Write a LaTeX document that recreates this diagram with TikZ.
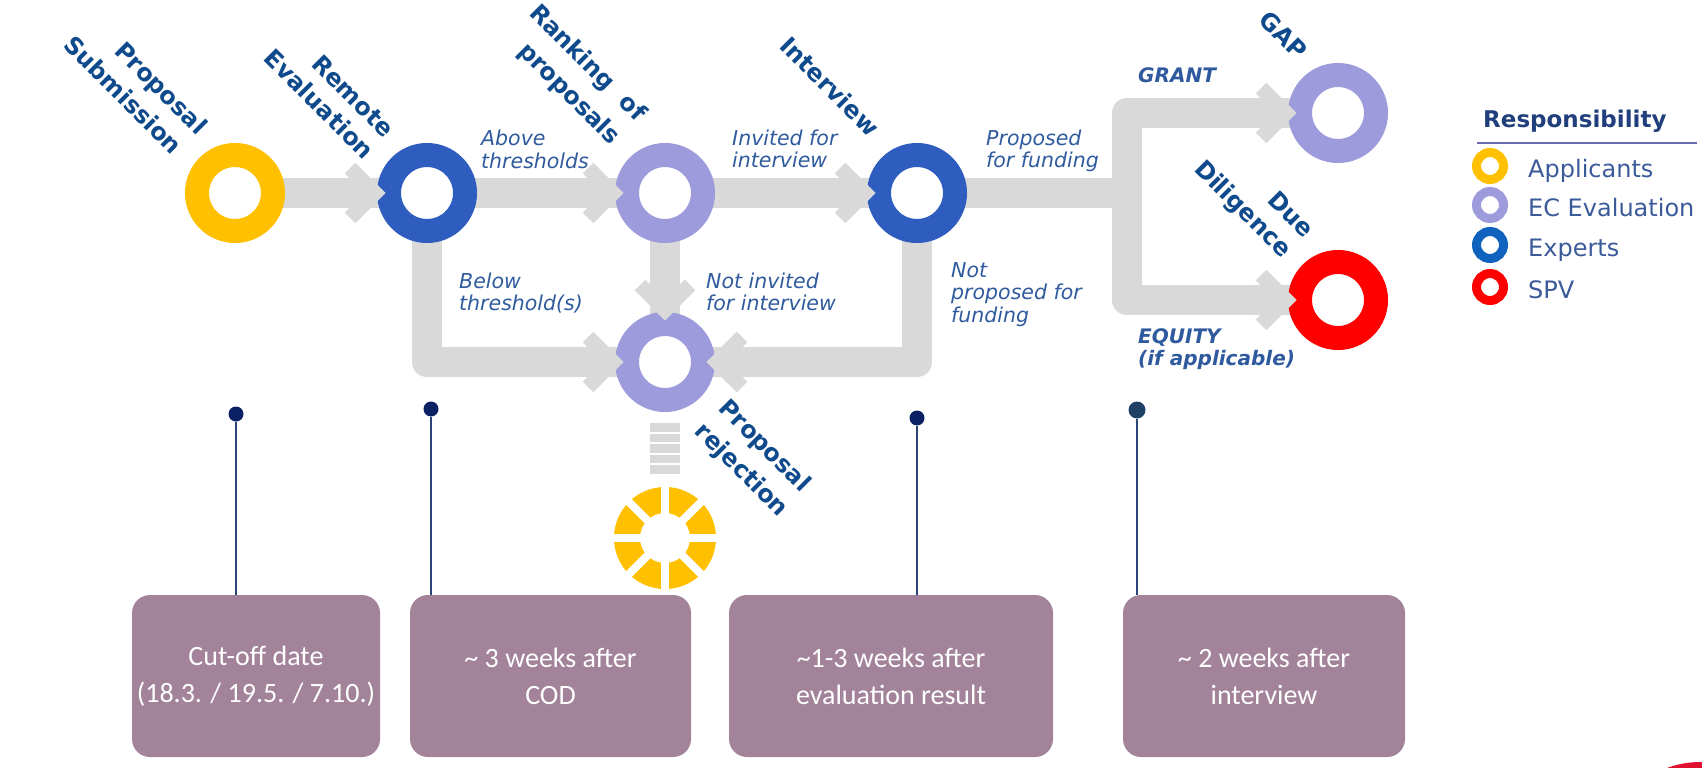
\documentclass[tikz,border=0pt]{standalone}
\usepackage{fontspec}
\setmainfont{DejaVu Sans}
\newfontfamily\boxfont{Carlito}
\usetikzlibrary{calc,backgrounds}
\definecolor{ringyellow}{HTML}{FFC000}
\definecolor{ringlav}{HTML}{9D9BDC}
\definecolor{ringblue}{HTML}{2E5CBF}
\definecolor{ringred}{HTML}{FF0000}
\definecolor{bandgray}{HTML}{D9D9D9}
\definecolor{titleblue}{HTML}{0F4A8C}
\definecolor{lblblue}{HTML}{2F5A9E}
\definecolor{legtitle}{HTML}{213F7C}
\definecolor{legtextc}{HTML}{3B5A9A}
\definecolor{legrulec}{HTML}{6B6BAF}
\definecolor{expblue}{HTML}{0F63BE}
\definecolor{pinnavy}{HTML}{0B2163}
\definecolor{pinnavyb}{HTML}{1E3F66}
\definecolor{pinlinec}{HTML}{2B4478}
\definecolor{boxmauve}{HTML}{A2839A}
\definecolor{swoosh}{HTML}{E0102F}
\tikzset{
  ring/.style={circle, draw=#1, line width=24pt, fill=white, minimum size=76pt, inner sep=0pt, outer sep=0pt},
  legring/.style={circle, draw=#1, line width=9pt, fill=white, minimum size=27pt, inner sep=0pt},
  band/.style={draw=bandgray, line width=30pt, line join=round},
  chevron/.style={draw=bandgray, line width=15pt, line join=miter},
  chev/.pic={\path[chevron] (-25,-25) -- (0,0) -- (-25,25);},
  steptitle/.style={font=\bfseries\fontsize{24}{29}\selectfont, text=titleblue, rotate=-45, anchor=base east, inner sep=0pt},
  flowlabel/.style={font=\itshape\fontsize{20.5}{24}\selectfont, text=lblblue, anchor=base west, inner sep=0pt},
  branchlabel/.style={flowlabel, font=\bfseries\itshape\fontsize{20}{24}\selectfont},
  pindot/.style={circle, fill=#1, minimum size=15pt, inner sep=0pt},
  pinl/.style={draw=pinlinec, line width=2.5pt},
  timebox/.style={rounded corners=18pt, fill=boxmauve, text=white, font=\boxfont\fontsize{28}{37}\selectfont, align=center, inner sep=0pt, minimum height=162pt},
  legtext/.style={font=\fontsize{24}{28}\selectfont, text=legtextc, anchor=base west, inner sep=0pt}
}
\begin{document}
\begin{tikzpicture}[x=1pt,y=-1pt]
\useasboundingbox (0,0) rectangle (1702,768);
% process rings
\node[ring=ringyellow] (ps) at (235,193) {};
\node[ring=ringblue] (re) at (427,193) {};
\node[ring=ringlav] (rk) at (665,193) {};
\node[ring=ringblue] (iv) at (917,193) {};
\node[ring=ringlav] (rj) at (665,362) {};
\node[ring=ringlav] (gap) at (1338,113) {};
\node[ring=ringred] (dd) at (1338,300) {};
\coordinate (br) at (1127,193);
% connectors
\begin{pgfonlayer}{background}
\draw[band] (ps.center) -- (re.center);
\draw[band] (re.center) -- (rk.center);
\draw[band] (re.center) |- (rj.center);
\draw[band] (rk.center) -- (rj.center);
\draw[band] (rk.center) -- (iv.center);
\draw[band] (iv.center) |- (rj.center);
\draw[band] (iv.center) -- (br);
\draw[band] (gap.center) -| (br) |- (dd.center);
\end{pgfonlayer}
% arrow heads
\pic at ($(re.center)+(-52,0)$) {chev};
\pic at ($(rk.center)+(-52,0)$) {chev};
\pic at ($(iv.center)+(-52,0)$) {chev};
\pic at ($(rj.center)+(-52,0)$) {chev};
\pic[rotate=-90] at ($(rj.center)+(0,-52)$) {chev};
\pic[rotate=180] at ($(rj.center)+(52,0)$) {chev};
\pic at ($(gap.center)+(-52,0)$) {chev};
\pic at ($(dd.center)+(-52,0)$) {chev};
% rejection end
\node[circle, draw=ringyellow, line width=26pt, minimum size=76pt, inner sep=0pt] (sun) at (665,538) {};
\foreach \a in {0,45,90,135}
  \draw[white, line width=8pt] ($(sun.center)+(\a:57)$) -- ($(sun.center)+(\a+180:57)$);
\draw[bandgray, line width=30pt, dash pattern=on 8.5pt off 2pt] ($(rj.center)+(0,61)$) -- ($(sun.center)+(0,-63)$);
% step titles
\node[steptitle] (t1a) at (197,136) {Proposal};
\node[steptitle] (t1b) at (172,156) {Submission};
\node[steptitle] (t2a) at (384,139) {Remote};
\node[steptitle] (t2b) at (364,161) {Evaluation};
\node[steptitle] (t3a) at (637,123) {Ranking\ \ of};
\node[steptitle] (t3b) at (611,146) {proposals};
\node[steptitle] (t4a) at (869,138) {Interview};
\node[steptitle] (t5a) at (1297,61) {GAP};
\node[steptitle] (t6a) at (1304,239) {Due};
\node[steptitle] (t6b) at (1282,259) {Diligence};
\node[steptitle] (t7a) at (801,493) {Proposal};
\node[steptitle] (t7b) at (779,518) {rejection};
% flow labels
\node[flowlabel] (la1) at (481,145) {Above};
\node[flowlabel] (la2) at (481,168) {thresholds};
\node[flowlabel] (lb1) at (459,288) {Below};
\node[flowlabel] (lb2) at (459,310) {threshold(s)};
\node[flowlabel] (lc1) at (732,145) {Invited for};
\node[flowlabel] (lc2) at (732,167) {interview};
\node[flowlabel] (ld1) at (706,288) {Not invited};
\node[flowlabel] (ld2) at (706,310) {for interview};
\node[flowlabel] (le1) at (986,145) {Proposed};
\node[flowlabel] (le2) at (986,167) {for funding};
\node[flowlabel] (lf1) at (951,277) {Not};
\node[flowlabel] (lf2) at (951,299) {proposed for};
\node[flowlabel] (lf3) at (951,322) {funding};
\node[branchlabel] (lg1) at (1138,82) {GRANT};
\node[branchlabel] (lh1) at (1138,343) {EQUITY};
\node[branchlabel] (lh2) at (1138,365) {(if applicable)};
% legend
\node[font=\bfseries\fontsize{23}{28}\selectfont, text=legtitle, anchor=base west, inner sep=0pt] (legt) at (1483,127) {Responsibility};
\draw[legrulec, line width=2pt] (1477,143) -- (1697,143);
\node[legring=ringyellow] (lr1) at (1490,166) {};
\node[legring=ringlav] (lr2) at (1490,205) {};
\node[legring=expblue] (lr3) at (1490,245) {};
\node[legring=ringred] (lr4) at (1490,287) {};
\node[legtext] (lt1) at (1528,177) {Applicants};
\node[legtext] (lt2) at (1528,216) {EC Evaluation};
\node[legtext] (lt3) at (1528,256) {Experts};
\node[legtext] (lt4) at (1528,298) {SPV};
% timeline
\node[timebox, minimum width=248pt] (b1) at (256,676) {Cut-off date\\(18.3. / 19.5. / 7.10.)};
\node[timebox, minimum width=281pt] (b2) at (550.5,676) {\textasciitilde{} 3 weeks after\\COD};
\node[timebox, minimum width=324pt] (b3) at (891,676) {\textasciitilde1-3 weeks after\\evaluation result};
\node[timebox, minimum width=282pt] (b4) at (1264,676) {\textasciitilde{} 2 weeks after\\interview};
\node[pindot=pinnavy] (p1) at (236,414) {};
\node[pindot=pinnavy] (p2) at (431,409) {};
\node[pindot=pinnavy] (p3) at (917,418) {};
\node[pindot=pinnavyb, minimum size=17pt] (p4) at (1137,410) {};
\draw[pinl] (p1) -- (p1 |- b1.north);
\draw[pinl] (p2) -- (p2 |- b2.north);
\draw[pinl] (p3) -- (p3 |- b3.north);
\draw[pinl] (p4) -- (p4 |- b4.north);
% corner swoosh
\fill[swoosh] (1667,768) .. controls (1680,763) and (1692,762) .. (1702,762) -- (1702,768) -- cycle;
\end{tikzpicture}
\end{document}
